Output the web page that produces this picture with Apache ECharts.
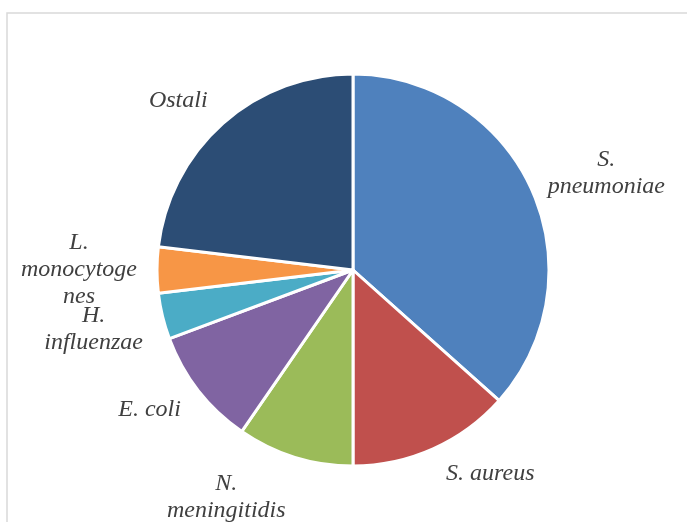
<!DOCTYPE html>
<html>
<head>
<meta charset="utf-8">
<script src="https://cdn.jsdelivr.net/npm/echarts@6/dist/echarts.min.js"></script>
<style>html,body{margin:0;padding:0;background:#fff}#c{width:687px;height:522px}</style>
</head>
<body>
<div id="c"></div>
<script>
// Data
var categories = ['S. pneumoniae', 'S. aureus', 'N. meningitidis', 'E. coli', 'H. influenzae', 'L. monocytogenes', 'Ostali'];
var labelTexts = ['S.\npneumoniae', 'S. aureus', 'N.\nmeningitidis', 'E. coli', 'H.\ninfluenzae', 'L.\nmonocytoge\nnes', 'Ostali'];
var values = [36.6, 13.4, 9.6, 9.7, 3.8, 3.8, 23.1];
var colors = ['#4F81BD', '#C0504D', '#9BBB59', '#8064A2', '#4BACC6', '#F79646', '#2C4D75'];

// label placement styling: distance from centre and angular nudge (deg)
var labelDist = [271, 246, 260, 247, 266, 274, 243];
var labelNudge = [3.3, -9.8, 11.9, 3.4, 0.9, 0, -4.4];

var cx = 353, cy = 270, R = 196;
var total = values.reduce(function (a, b) { return a + b; }, 0);
var mids = [];
(function () {
  var cum = 0;
  for (var i = 0; i < values.length; i++) {
    mids.push((cum + values[i] / 2) / total * 360);
    cum += values[i];
  }
})();

var chart = echarts.init(document.getElementById('c'), null, { renderer: 'canvas' });
chart.setOption({
  animation: false,
  backgroundColor: '#fff',
  graphic: [{
    type: 'rect', z: -10,
    shape: { x: 7, y: 13, width: 720, height: 560 },
    style: { fill: 'none', stroke: '#d9d9d9', lineWidth: 1.5 }
  }],
  series: [{
    type: 'pie',
    center: [cx, cy],
    radius: [0, R],
    startAngle: 90,
    clockwise: true,
    avoidLabelOverlap: false,
    itemStyle: { borderColor: '#fff', borderWidth: 3 },
    label: {
      show: true,
      position: 'outside',
      formatter: function (p) { return labelTexts[p.dataIndex]; },
      fontFamily: "'Liberation Serif', 'Times New Roman', serif",
      fontStyle: 'italic',
      fontSize: 24,
      lineHeight: 27,
      color: '#404040',
      align: 'center'
    },
    labelLine: { show: false },
    labelLayout: function (p) {
      var i = p.dataIndex;
      var th = (mids[i] + labelNudge[i]) * Math.PI / 180;
      return {
        x: cx + labelDist[i] * Math.sin(th),
        y: cy - labelDist[i] * Math.cos(th),
        align: 'center',
        verticalAlign: 'middle'
      };
    },
    emphasis: { disabled: true },
    data: categories.map(function (c, i) {
      return { name: c, value: values[i], itemStyle: { color: colors[i] } };
    })
  }]
});
</script>
</body>
</html>
